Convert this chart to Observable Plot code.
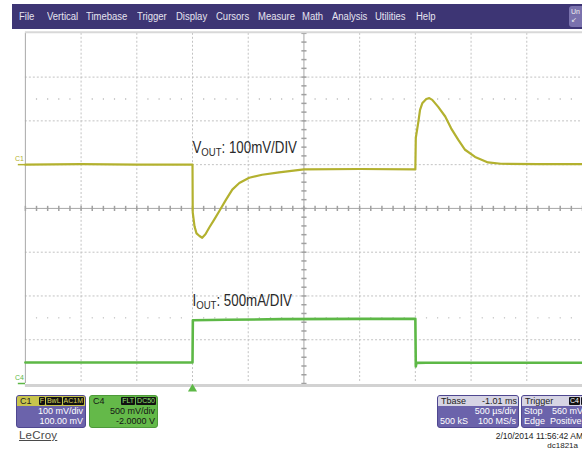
<!DOCTYPE html>
<html><head><meta charset="utf-8">
<script src="https://cdn.jsdelivr.net/npm/d3@7"></script>
<script src="https://cdn.jsdelivr.net/npm/@observablehq/plot@0.6"></script>
<style>
html,body{margin:0;padding:0;background:#fff;overflow:hidden;width:582px;height:451px;font-family:"Liberation Sans",Arial,sans-serif;}
#wrap{position:relative;width:582px;height:451px;overflow:hidden;}
#chart{position:absolute;left:0;top:0;}
.menu{position:absolute;left:12px;top:4px;width:570px;height:25px;background:#3d3574;}
.mi{position:absolute;top:7px;font-size:10px;line-height:11px;color:#e6e4f0;transform:scaleX(0.95);transform-origin:left center;white-space:nowrap;}
.unbtn{position:absolute;left:569px;top:6px;width:20px;height:21px;background:#7a72ad;border-radius:3px;color:#eee;font-size:7px;line-height:8px;padding:2px 0 0 2px;box-sizing:border-box;}
.box{position:absolute;top:395px;height:33px;border-radius:3px;overflow:hidden;box-sizing:border-box;font-size:9px;line-height:10px;}
.purple{background:#6b63ab;border:1px solid #4f4790;color:#fff;}
.green{background:#64b949;border:1px solid #4d9a3a;color:#151515;}
.hdr{height:10px;display:flex;justify-content:space-between;align-items:center;padding:0 1px 0 3px;}
.badges{display:flex;gap:1px;}
.badges b{background:#111;font-weight:normal;font-size:7px;line-height:8px;padding:0 1px;border-radius:1px;}
.row{height:10px;padding:0 2px 0 2px;display:flex;justify-content:space-between;white-space:nowrap;}
.abs{position:absolute;white-space:nowrap;}
</style></head>
<body><div id="wrap">
<div id="chart"></div>
<div class="menu" id="menu"></div>
<div class="unbtn">Un<br>&#8601;</div>

<div class="box purple" style="left:16px;width:70px;">
  <div class="hdr" style="background:#c8c44c;color:#222"><span>C1</span><span class="badges"><b style="color:#d8d45a">F</b><b style="color:#d8d45a">BwL</b><b style="color:#d8d45a">AC1M</b></span></div>
  <div class="row" style="justify-content:flex-end">100 mV/div</div>
  <div class="row" style="justify-content:flex-end">100.00 mV</div>
</div>
<div class="box green" style="left:89px;width:69px;">
  <div class="hdr"><span>C4</span><span class="badges"><b style="color:#8fe070">FLT</b><b style="color:#8fe070">DC50</b></span></div>
  <div class="row" style="justify-content:flex-end">500 mV/div</div>
  <div class="row" style="justify-content:flex-end">-2.0000 V</div>
</div>
<div class="box purple" style="left:437px;width:82px;">
  <div class="hdr" style="background:#d6d4e4;color:#222"><span>Tbase</span><span>-1.01 ms</span></div>
  <div class="row" style="justify-content:flex-end">500 µs/div</div>
  <div class="row"><span>500 kS</span><span>100 MS/s</span></div>
</div>
<div class="box purple" style="left:521px;width:80px;">
  <div class="hdr" style="background:#d6d4e4;color:#222"><span>Trigger</span><span class="badges" style="margin-right:6px"><b style="color:#fff">C4</b><b style="color:#fff">DC</b></span></div>
  <div class="row"><span>Stop</span><span style="position:absolute;left:30px">560 mV</span></div>
  <div class="row"><span>Edge</span><span style="position:absolute;left:28px">Positive</span></div>
</div>
<div class="abs" style="left:19px;top:429px;font-size:11.5px;color:#4a4a4a;text-decoration:underline;letter-spacing:0.2px;">LeCroy</div>
<div class="abs" style="right:-1px;top:431px;font-size:8.5px;line-height:10px;color:#222;">2/10/2014 11:56:42 AM</div>
<div class="abs" style="right:4px;top:441px;font-size:8px;line-height:9px;color:#222;">dc1821a</div>
</div>
<script>
// ---- data ----
const menuLabels = ["File","Vertical","Timebase","Trigger","Display","Cursors","Measure","Math","Analysis","Utilities","Help"];
const menuX = [19,47,86,137,176,216,258,302,332,375,416]; // layout

// channel settings
const channelNames = ["C1","C4"];
const channelScale = [100, 500];     // mV/div
const channelOffset = [100, -2000];  // mV
const channelColor = ["#b3b12f","#5db846"];

// VOUT (C1, AC coupled) : time in ms, deviation in mV
const vTime = [-1.5,-1.0,-0.5,0,0.002,0.018,0.036,0.0625,0.087,0.116,0.152,0.196,0.241,0.301,0.357,0.42,0.509,0.625,0.777,1.0,1.5,2.0,2.004,2.027,2.042,2.062,2.098,2.125,2.152,2.205,2.268,2.321,2.384,2.446,2.536,2.652,2.768,3.1,3.5];
const vOut  = [0,1,0,0,-109,-141,-157,-163,-167,-159,-143,-125,-106,-80,-57,-42,-30,-23,-17.5,-11,-10,-11,61,98,125,140,150,152,148,132,110,83,57,34,17.5,5,2,1,1];

// IOUT (C4) : time in ms, mV on scope (500mA/div)
const iTime = [-1.5,0,0.003,0.3,0.8,1.5,2.0,2.004,2.01,2.1,3.5];
const iOut  = [240,240,722,728,735,738,740,195,236,238,238];

const annotLabels = ["VOUT: 100mV/DIV","IOUT: 500mA/DIV"];
const annotTime = [0, 0];
const annotDiv = [1.27, -2.22];

// ---- build ----
const menu = document.getElementById("menu");
menuLabels.forEach((m,i)=>{const s=document.createElement("span");s.className="mi";s.style.left=(menuX[i]-12)+"px";s.textContent=m;menu.appendChild(s);});

const toDiv = (v, ch) => (v + channelOffset[ch]) / channelScale[ch];
const vData = vTime.map((t,i)=>({t, div: toDiv(vOut[i],0)}));
const iData = iTime.map((t,i)=>({t, div: toDiv(iOut[i],1)}));
const annots = annotLabels.map((label,i)=>({label, t: annotTime[i], div: annotDiv[i]}));
const chMarks = channelNames.map((name,i)=>({name, div: channelOffset[i]/channelScale[i], color: channelColor[i]}));

const hbar = {draw(ctx,size){const r=Math.sqrt(size/Math.PI);ctx.moveTo(-r,0);ctx.lineTo(r,0);}};
const vbar = {draw(ctx,size){const r=Math.sqrt(size/Math.PI);ctx.moveTo(0,-r);ctx.lineTo(0,r);}};

const gridT = d3.range(-3,8).map(i=>i/2);
const gridY = d3.range(-4,5);
const fineT = d3.range(-15,36).map(i=>i/10);
const fineY = d3.range(-20,21).map(i=>i/5);
const sparse = [];
d3.range(-15,36).filter(i=>i%5!==0).forEach(i=>{sparse.push({t:i/10,div:2.5});sparse.push({t:i/10,div:-2.5});});

const plot = Plot.plot({
  width: 585, height: 451,
  marginLeft: 25, marginRight: 0, marginTop: 33, marginBottom: 66,
  x: {domain: [-1.5, 3.5], axis: null},
  y: {domain: [-4, 4], axis: null},
  style: {background: "transparent", fontFamily: "Liberation Sans, Arial, sans-serif", overflow: "visible"},
  marks: [
    Plot.ruleX(gridT.filter(t=>t!==1 && t!==-1.5), {stroke:"#c2c2c2", strokeDasharray:"2,2"}),
    Plot.ruleY(gridY.filter(d=>d!==0 && Math.abs(d)!==4), {stroke:"#c2c2c2", strokeDasharray:"2,2"}),
    Plot.dot(sparse, {x:"t", y:"div", r:0.7, fill:"#b0b0b0", stroke:null}),
    Plot.ruleX([1], {stroke:"#a6a6a6"}),
    Plot.ruleY([0], {stroke:"#a6a6a6"}),
    Plot.dot(fineY, {x:()=>1, y:d=>d, symbol:hbar, r:2.6, fill:"none", stroke:"#a0a0a0"}),
    Plot.dot(fineT, {x:d=>d, y:()=>0, symbol:vbar, r:2.6, fill:"none", stroke:"#a0a0a0"}),
    Plot.ruleX([-1.5], {stroke:"#a8a8a8"}),
    Plot.ruleY([4], {stroke:"#d8d8d8", strokeWidth:2, dy:-1}),
    Plot.ruleY([-4], {stroke:"#d2d2d2", strokeWidth:3, dy:2}),
    Plot.line(vData, {x:"t", y:"div", stroke:channelColor[0], strokeWidth:2.2}),
    Plot.line(iData, {x:"t", y:"div", stroke:channelColor[1], strokeWidth:2.6}),
    Plot.text(chMarks, {x:()=>-1.5, y:"div", text:"name", fill:"color", dx:-6, dy:-6, fontSize:7}),
    Plot.dot(chMarks, {x:()=>-1.5, y:"div", symbol:hbar, r:3.6, fill:"none", stroke:"color", strokeWidth:1.5, dx:-4}),
    Plot.dot([0], {x:d=>d, frameAnchor:"bottom", dy:5.5, symbol:"triangle", r:3.4, fill:channelColor[1], stroke:null}),
    Plot.text(annots, {x:"t", y:"div", text:"label", textAnchor:"start", lineAnchor:"bottom", fontSize:16, fill:"#2a2a2a"})
  ]
});
document.getElementById("chart").appendChild(plot);

// subscript "OUT" and narrow the annotation text
const annotWidth = {V:105, I:100};
d3.select(plot).selectAll("text").each(function(){
  const m = (this.textContent||"").match(/^([VI])OUT(:.*)$/);
  if (!m) return;
  const sel = d3.select(this);
  sel.text(null);
  sel.append("tspan").text(m[1]);
  sel.append("tspan").attr("font-size","11.5").attr("dy","3").text("OUT");
  sel.append("tspan").attr("dy","-3").text(m[2]);
  sel.attr("textLength", annotWidth[m[1]]).attr("lengthAdjust","spacingAndGlyphs");
});
</script>
</body></html>
